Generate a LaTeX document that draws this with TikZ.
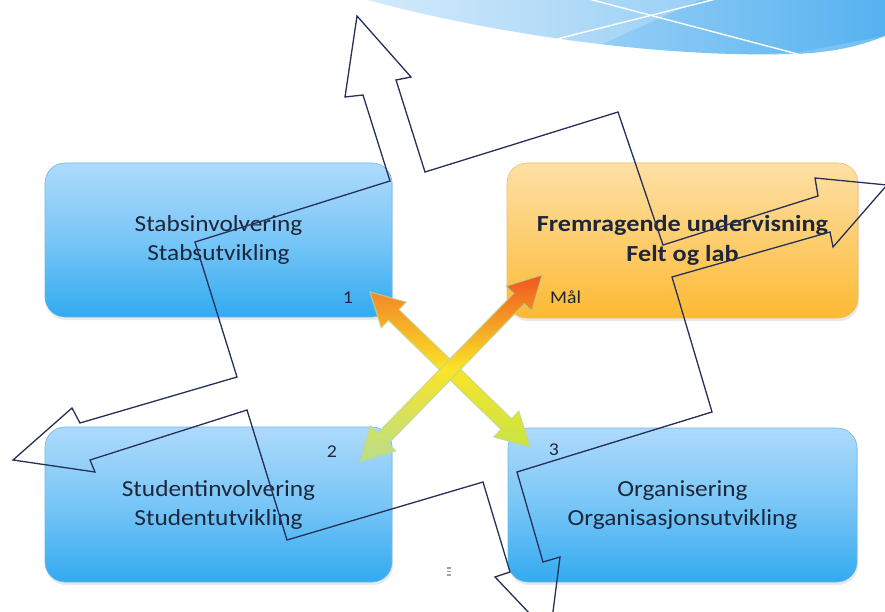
\documentclass[tikz,border=0pt]{standalone}
\usepackage{fontspec}
\setmainfont{Carlito}
\newfontfamily\boxfont[FakeStretch=1.1]{Carlito}
\newfontfamily\goalfont[FakeStretch=1.14]{Carlito}
\usetikzlibrary{calc,shadows}
\definecolor{boxtop}{RGB}{174,218,251}
\definecolor{boxmid}{RGB}{120,198,247}
\definecolor{boxbot}{RGB}{50,170,240}
\definecolor{boxline}{RGB}{110,185,235}
\definecolor{goaltop}{RGB}{253,224,165}
\definecolor{goalmid}{RGB}{253,205,110}
\definecolor{goalbot}{RGB}{252,186,50}
\definecolor{goalline}{RGB}{238,190,110}
\definecolor{txtc}{RGB}{30,38,58}
\definecolor{outl}{RGB}{38,48,88}
\definecolor{waveL}{RGB}{200,228,250}
\definecolor{waveR}{RGB}{85,178,240}
\definecolor{arOrange}{RGB}{242,135,40}
\definecolor{arRed}{RGB}{240,85,30}
\definecolor{arYellow}{RGB}{250,228,40}
\definecolor{arGreen}{RGB}{200,228,70}
\definecolor{arPale}{RGB}{185,222,140}
\definecolor{glow}{RGB}{190,215,150}
\tikzset{
  panel/.style={rounded corners=20pt, minimum width=347pt, minimum height=154pt,
    align=center, text=txtc, font=\boxfont\fontsize{23}{29}\selectfont,
    drop shadow={opacity=0.18, shadow xshift=1pt, shadow yshift=-3pt}},
  bluebox/.style={panel, draw=boxline, line width=0.6pt,
    top color=boxtop, bottom color=boxbot, middle color=boxmid},
  goalbox/.style={panel, draw=goalline, line width=0.6pt,
    top color=goaltop, bottom color=goalbot, middle color=goalmid,
    font=\goalfont\bfseries\fontsize{23}{30}\selectfont},
  numlbl/.style={text=txtc, font=\boxfont\fontsize{18}{18}\selectfont, inner sep=0pt},
  bigarrow/.style={draw=outl, line width=1.3pt, line join=miter},
  crossarrow/.style={draw=glow, line width=1.2pt, draw opacity=0.7}
}
\begin{document}
\begin{tikzpicture}[x=1pt,y=-1pt]
\useasboundingbox (0,0) rectangle (885,612);
\clip (0,0) rectangle (885,612);
\fill[white] (0,0) rectangle (885,612);

% top-right wave
\begin{scope}
  \path[clip] (368,0) .. controls (470,28) and (640,58) .. (790,54)
     .. controls (835,53) and (862,45) .. (885,36) -- (885,0) -- cycle;
  \shade[left color=waveL, right color=waveR] (368,-2) rectangle (886,60);
  \fill[white,opacity=0.22] (368,0) .. controls (470,28) and (560,42) .. (600,45) -- (700,0) -- cycle;
  \fill[white,opacity=0.18] (560,40) .. controls (650,55) and (720,56) .. (790,54) -- (885,36) -- (885,50) -- (560,60) -- cycle;
  \draw[white, line width=1.4pt] (553,40) -- (720,-2);
  \draw[white, line width=1.4pt] (585,-2) -- (805,56);
\end{scope}

% panels
\node[bluebox] (stab) at (218.5,240) {Stabsinvolvering\\Stabsutvikling};
\node[bluebox, minimum height=155pt] (stud) at (218.5,504.5) {Studentinvolvering\\Studentutvikling};
\node[bluebox, minimum width=349pt] (org) at (682.5,505) {Organisering\\Organisasjonsutvikling};
\node[goalbox, minimum width=351pt, minimum height=155pt] (goal) at (682.5,240.5) {Fremragende undervisning\\Felt og lab};

\node[numlbl] (n1) at (348,298) {1};
\node[numlbl] (n2) at (332,452) {2};
\node[numlbl] (n3) at (554,450) {3};
\node[numlbl, anchor=west] (mal) at (550,297) {Mål};

% big outlined four-way arrow
\draw[bigarrow] (357,16) -- (411,77) -- (396,80) -- (425,172) -- (618,112)
  -- (663,245) -- (818,196) -- (815,178) -- (887,185) -- (833,247) -- (830,232)
  -- (672,277) -- (712,412) -- (517,472) -- (543,562) -- (560,557)
  -- (550,635) -- (495,577) -- (510,572) -- (483,482) -- (287,540)
  -- (247,410) -- (90,460) -- (95,472) -- (13,460) -- (72,408) -- (80,423)
  -- (237,377) -- (195,242) -- (390,181) -- (363,95) -- (345,97) -- cycle;

% crossing double arrows
\coordinate (t1) at (370,292);
\coordinate (t3) at (530,447);
\coordinate (tg) at (542,275);
\coordinate (t2) at (360,462);
\coordinate (a1) at ($(t1)!33pt!(t3)$);
\coordinate (a3) at ($(t3)!33pt!(t1)$);
\coordinate (bg) at ($(tg)!33pt!(t2)$);
\coordinate (b2) at ($(t2)!33pt!(tg)$);
\shadedraw[crossarrow, top color=arOrange, bottom color=arGreen, middle color=arYellow]
  (t1) -- ($(a1)!18pt!90:(t3)$) -- ($(a1)!7.5pt!90:(t3)$) -- ($(a3)!7.5pt!-90:(t1)$)
  -- ($(a3)!18pt!-90:(t1)$) -- (t3) -- ($(a3)!18pt!90:(t1)$) -- ($(a3)!7.5pt!90:(t1)$)
  -- ($(a1)!7.5pt!-90:(t3)$) -- ($(a1)!18pt!-90:(t3)$) -- cycle;
\shadedraw[crossarrow, top color=arRed, bottom color=arPale, middle color=arYellow]
  (tg) -- ($(bg)!18pt!90:(t2)$) -- ($(bg)!7.5pt!90:(t2)$) -- ($(b2)!7.5pt!-90:(tg)$)
  -- ($(b2)!18pt!-90:(tg)$) -- (t2) -- ($(b2)!18pt!90:(tg)$) -- ($(b2)!7.5pt!90:(tg)$)
  -- ($(bg)!7.5pt!-90:(t2)$) -- ($(bg)!18pt!-90:(t2)$) -- cycle;

% tiny slide mark
\fill[gray!75] (447,567) rectangle (451,568.5);
\fill[gray!75] (447,570.5) rectangle (451,572);
\fill[gray!75] (447,574) rectangle (451,575.5);
\end{tikzpicture}
\end{document}
